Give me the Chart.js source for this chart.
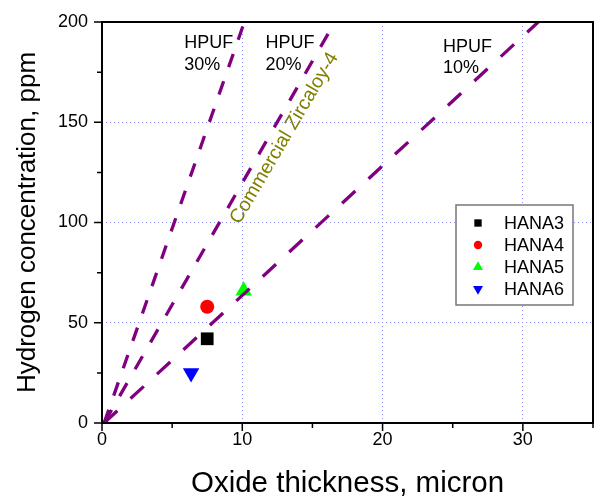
<!DOCTYPE html>
<html>
<head>
<meta charset="utf-8">
<script src="https://cdn.jsdelivr.net/npm/chart.js@4.4.1/dist/chart.umd.min.js"></script>
<style>
  html, body { margin: 0; padding: 0; background: #fff; }
</style>
</head>
<body>
<canvas id="grafico" width="594" height="500"></canvas>
<script>
// ---------------------------------------------------------
// Dados
// ---------------------------------------------------------
const amostras = ["HANA3", "HANA4", "HANA5", "HANA6"];
const espessura = [7.5, 7.5, 10.1, 6.35];      // micron
const hidrogenio = [42, 58, 66, 25];            // ppm

// linhas de fração de absorção (HPUF): início e fim
const hpufNomes = ["30%", "20%", "10%"];
const hpufX = [[0.15, 10.15], [0.15, 16.6], [0.15, 31.1]];
const hpufY = [[0, 200], [0, 200], [0, 200]];

const xTicks = [0, 10, 20, 30];
const yTicks = [0, 50, 100, 150, 200];

// posição dos rótulos HPUF (coordenadas do gráfico)
const rotuloX = [5.86, 11.65, 24.3];
const rotuloY = [[187.2, 176], [187.2, 176], [185, 174.4]];

const FONTE = "'Liberation Sans', Arial, sans-serif";
const roxo = "#800080";
const tracos = [[14, 15], [15, 16], [18, 18]];

const estilos = [
  { pointStyle: "rect", color: "#000000", radius: 9, rotation: 0 },
  { pointStyle: "circle", color: "#ff0000", radius: 7, rotation: 0 },
  { pointStyle: "triangle", color: "#00ff00", radius: 9.5, rotation: 0 },
  { pointStyle: "triangle", color: "#0000ff", radius: 9.5, rotation: 180 },
];

// ---------------------------------------------------------
// Datasets
// ---------------------------------------------------------
const datasets = [];

hpufNomes.forEach((nome, i) => {
  datasets.push({
    type: "line",
    label: "HPUF " + nome,
    data: hpufX[i].map((x, j) => ({ x: x, y: hpufY[i][j] })),
    borderColor: roxo,
    borderWidth: 3.3,
    borderDash: tracos[i],
    pointRadius: 0,
    fill: false,
    tension: 0,
  });
});

amostras.forEach((nome, i) => {
  datasets.push({
    type: "scatter",
    label: nome,
    data: [{ x: espessura[i], y: hidrogenio[i] }],
    pointStyle: estilos[i].pointStyle,
    pointRotation: estilos[i].rotation,
    pointRadius: estilos[i].radius,
    pointBackgroundColor: estilos[i].color,
    pointBorderColor: estilos[i].color,
    pointBorderWidth: 0,
  });
});

// ---------------------------------------------------------
// Plugin: moldura, marcas dos eixos, textos e legenda
// ---------------------------------------------------------
const extras = {
  id: "extras",
  afterDatasetsDraw(chart) {
    const { ctx, chartArea: a, scales } = chart;
    const sx = scales.x, sy = scales.y;
    ctx.save();

    // moldura
    ctx.strokeStyle = "#000";
    ctx.lineWidth = 2;
    ctx.strokeRect(a.left, a.top, a.right - a.left, a.bottom - a.top);

    // marcas (maiores e menores)
    ctx.lineWidth = 1.5;
    ctx.beginPath();
    sx.ticks.forEach((t) => {
      const px = sx.getPixelForValue(t.value);
      const len = xTicks.includes(t.value) ? 8 : 5;
      ctx.moveTo(px, a.bottom);
      ctx.lineTo(px, a.bottom + len);
    });
    sy.ticks.forEach((t) => {
      const py = sy.getPixelForValue(t.value);
      const len = yTicks.includes(t.value) ? 8 : 5;
      ctx.moveTo(a.left, py);
      ctx.lineTo(a.left - len, py);
    });
    ctx.stroke();

    // rótulos HPUF
    ctx.fillStyle = "#000";
    ctx.font = "18px " + FONTE;
    ctx.textAlign = "left";
    ctx.textBaseline = "alphabetic";
    hpufNomes.forEach((nome, i) => {
      const px = sx.getPixelForValue(rotuloX[i]);
      ctx.fillText("HPUF", px, sy.getPixelForValue(rotuloY[i][0]));
      ctx.fillText(nome, px, sy.getPixelForValue(rotuloY[i][1]));
    });

    // Commercial Zircaloy-4
    ctx.save();
    ctx.translate(sx.getPixelForValue(13.0), sy.getPixelForValue(142.0));
    ctx.rotate(-59.5 * Math.PI / 180);
    ctx.fillStyle = "#808000";
    ctx.font = "19.5px " + FONTE;
    ctx.textAlign = "center";
    ctx.textBaseline = "middle";
    ctx.fillText("Commercial Zircaloy-4", 0, 0);
    ctx.restore();

    // legenda
    const lx = 456, ly = 205, lw = 117, lh = 100;
    ctx.fillStyle = "#fff";
    ctx.fillRect(lx, ly, lw, lh);
    ctx.strokeStyle = "#777";
    ctx.lineWidth = 1.5;
    ctx.strokeRect(lx, ly, lw, lh);
    ctx.font = "18px " + FONTE;
    ctx.textBaseline = "middle";
    amostras.forEach((nome, i) => {
      const cy = ly + 18 + i * 22;
      const e = estilos[i];
      ctx.fillStyle = e.color;
      ctx.strokeStyle = e.color;
      Chart.helpers.drawPoint(ctx, {
        pointStyle: e.pointStyle,
        radius: e.pointStyle === "rect" ? 5.2 : e.pointStyle === "circle" ? 4.2 : 5.8,
        rotation: e.rotation,
        borderWidth: 0,
      }, 478, cy);
      ctx.fillStyle = "#000";
      ctx.fillText(nome, 504, cy + 1);
    });

    ctx.restore();
  },
};

// ---------------------------------------------------------
// Gráfico
// ---------------------------------------------------------
const corGrade = "#8c8cf8";

new Chart(document.getElementById("grafico"), {
  type: "scatter",
  data: { datasets: datasets },
  options: {
    responsive: false,
    animation: false,
    layout: { autoPadding: false, padding: { top: 22, right: 1, left: 0, bottom: 0 } },
    plugins: { legend: { display: false }, tooltip: { enabled: false } },
    scales: {
      x: {
        type: "linear",
        min: 0,
        max: 35,
        afterFit: (s) => {
          s.height = 77;
          s.paddingLeft = 0;
          s.paddingRight = 0;
        },
        ticks: {
          stepSize: 5,
          padding: 6,
          color: "#000",
          font: { family: FONTE, size: 18 },
          callback: (v) => (xTicks.includes(v) ? String(v) : ""),
        },
        grid: {
          drawTicks: false,
          lineWidth: 1,
          color: (c) => (c.tick && xTicks.includes(c.tick.value) && c.tick.value !== 0 ? corGrade : "rgba(0,0,0,0)"),
        },
        border: { display: false, dash: [1, 3] },
        title: {
          display: true,
          text: "Oxide thickness, micron",
          color: "#000",
          font: { family: FONTE, size: 29.5, lineHeight: 1 },
          padding: { top: 0, bottom: 1 },
        },
      },
      y: {
        type: "linear",
        min: 0,
        max: 200,
        afterFit: (s) => {
          s.width = 102;
          s.paddingTop = 0;
          s.paddingBottom = 0;
        },
        ticks: {
          stepSize: 25,
          padding: 14,
          color: "#000",
          font: { family: FONTE, size: 18 },
          callback: (v) => (yTicks.includes(v) ? String(v) : ""),
        },
        grid: {
          drawTicks: false,
          lineWidth: 1,
          color: (c) => (c.tick && yTicks.includes(c.tick.value) && c.tick.value !== 0 && c.tick.value !== 200 ? corGrade : "rgba(0,0,0,0)"),
        },
        border: { display: false, dash: [1, 3] },
        title: {
          display: true,
          text: "Hydrogen concentration, ppm",
          color: "#000",
          font: { family: FONTE, size: 26, lineHeight: 1 },
          padding: { top: 15, bottom: 0 },
        },
      },
    },
  },
  plugins: [extras],
});
</script>
</body>
</html>
